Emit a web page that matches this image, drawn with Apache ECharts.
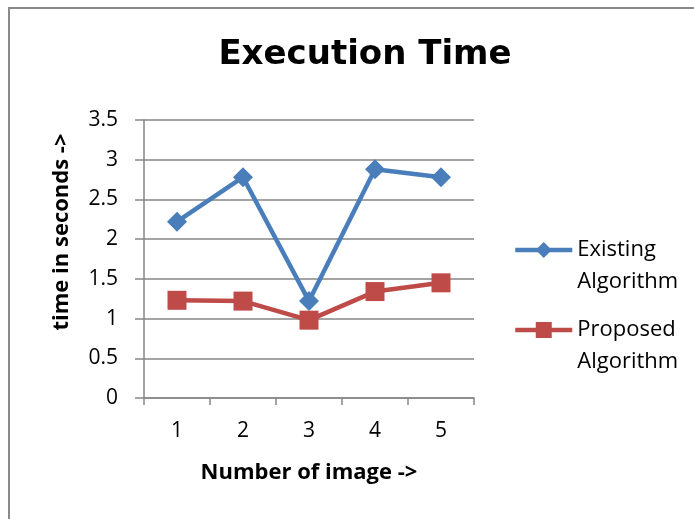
<!DOCTYPE html>
<html>
<head>
<meta charset="utf-8">
<script src="https://cdn.jsdelivr.net/npm/echarts@6/dist/echarts.min.js"></script>
<style>
  html, body { margin: 0; padding: 0; background: #fff; }
  #frame { position: absolute; left: 8px; top: 7px; width: 720px; height: 560px; border: 2px solid #8a8a8a; box-sizing: border-box; }
  #chart { position: absolute; left: 0; top: 0; width: 694px; height: 519px; }
</style>
</head>
<body>
<div id="frame"></div>
<div id="chart"></div>
<script>
const categories = ['1', '2', '3', '4', '5'];
const seriesNames = ['Existing Algorithm', 'Proposed Algorithm'];
const existing = [2.22, 2.78, 1.22, 2.88, 2.78];
const proposed = [1.23, 1.22, 0.98, 1.34, 1.45];
const titleText = 'Execution Time';
const xName = 'Number of image ->';
const yName = 'time in seconds ->';

const FONT = '"Open Sans", "Noto Sans", sans-serif';
const chart = echarts.init(document.getElementById('chart'), null, { renderer: 'canvas' });

const legendBase = {
  orient: 'vertical',
  left: 513,
  padding: 0,
  itemWidth: 57,
  itemHeight: 20,
  itemGap: 0,
  textGap: 5,
  lineStyle: { width: 4.5 },
  formatter: n => ' \n' + n.replace(' ', '\n'),
  textStyle: { fontFamily: FONT, fontSize: 22, color: '#000', lineHeight: 32 }
};

chart.setOption({
  backgroundColor: 'transparent',
  animation: false,
  title: {
    text: titleText,
    left: 360,
    textAlign: 'center',
    top: 33,
    textStyle: { fontFamily: '"DejaVu Sans", sans-serif', fontSize: 34, fontWeight: 'bold', color: '#000' }
  },
  legend: [
    Object.assign({}, legendBase, { data: [seriesNames[0]], top: 250 - 48 }),
    Object.assign({}, legendBase, { data: [seriesNames[1]], top: 330 - 48 })
  ],
  grid: { left: 144, right: 220, top: 120, bottom: 121, containLabel: false },
  xAxis: {
    type: 'category',
    data: categories,
    boundaryGap: true,
    name: xName,
    nameLocation: 'middle',
    nameGap: 64,
    nameTextStyle: { fontFamily: FONT, fontSize: 22, fontWeight: 'bold', color: '#000' },
    axisLine: { lineStyle: { color: '#868686', width: 1.5 } },
    axisTick: { show: true, inside: false, length: 7, alignWithLabel: false, lineStyle: { color: '#868686', width: 1.5 } },
    axisLabel: { fontFamily: FONT, fontSize: 21, color: '#000', margin: 23 },
    splitLine: { show: false }
  },
  yAxis: {
    type: 'value',
    min: 0,
    max: 3.5,
    interval: 0.5,
    axisLine: { show: true, lineStyle: { color: '#868686', width: 1.5 } },
    axisTick: { show: true, inside: false, length: 9, lineStyle: { color: '#868686', width: 1.5 } },
    axisLabel: { fontFamily: FONT, fontSize: 21, color: '#000', margin: 26 },
    splitLine: { show: true, lineStyle: { color: '#868686', width: 1.5 } }
  },
  graphic: [{
    type: 'text',
    x: 62,
    y: 232,
    rotation: Math.PI / 2,
    style: {
      text: yName,
      fontFamily: FONT,
      fontSize: 22,
      fontWeight: 'bold',
      fill: '#000',
      align: 'center',
      verticalAlign: 'middle'
    }
  }],
  series: [
    {
      name: seriesNames[0],
      type: 'line',
      data: existing,
      symbol: 'diamond',
      symbolSize: 20,
      lineStyle: { color: '#4A7EBB', width: 4.5 },
      itemStyle: { color: '#4A7EBB' }
    },
    {
      name: seriesNames[1],
      type: 'line',
      data: proposed,
      symbol: 'rect',
      symbolSize: 19,
      lineStyle: { color: '#BE4B48', width: 4.5 },
      itemStyle: { color: '#BE4B48' }
    }
  ]
});
</script>
</body>
</html>
